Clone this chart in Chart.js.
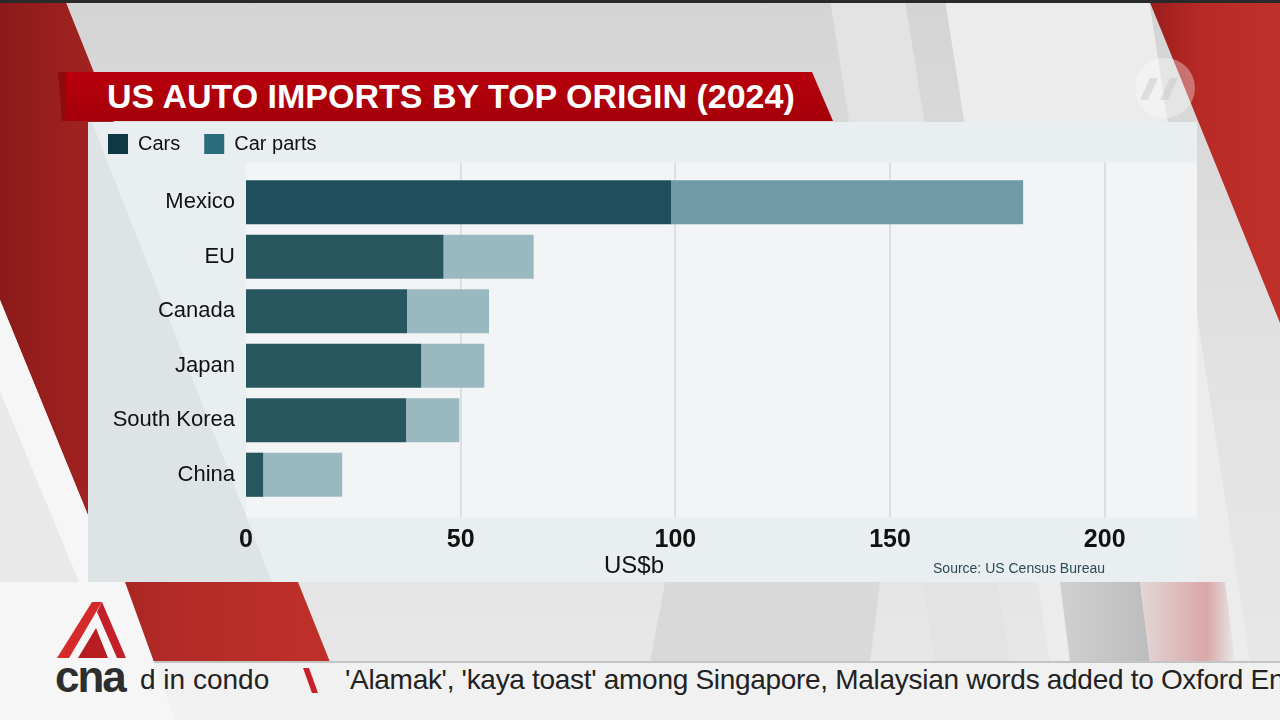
<!DOCTYPE html>
<html>
<head>
<meta charset="utf-8">
<script src="https://cdn.jsdelivr.net/npm/chart.js@4.4.1/dist/chart.umd.min.js"></script>
<style>
  html,body{margin:0;padding:0;width:1280px;height:720px;overflow:hidden;background:#dedede;font-family:"Liberation Sans",Arial,sans-serif;}
  #bg{position:absolute;left:0;top:0;}
  .abs{position:absolute;white-space:nowrap;}
  #title{left:107px;top:72px;height:49px;line-height:49px;font-size:34px;font-weight:bold;color:#fff;}
  #chartWrap{position:absolute;left:70px;top:100px;width:1140px;height:500px;}
  #unit{left:584px;top:551px;width:100px;text-align:center;font-size:24px;color:#111;line-height:28px;}
  #source{right:175px;top:559px;font-size:14px;color:#2b4a55;line-height:18px;}
  #tick1{left:140px;top:664px;font-size:28px;color:#222;letter-spacing:0px;line-height:32px;}
  #tick2{left:345px;top:664px;font-size:28px;color:#222;letter-spacing:-0.3px;line-height:32px;}
  #cna{left:55px;top:652px;font-size:44px;font-weight:bold;color:#2e2e2e;letter-spacing:-2px;line-height:50px;}
</style>
</head>
<body>
<svg id="bg" width="1280" height="720" xmlns="http://www.w3.org/2000/svg">
  <defs>
    <linearGradient id="bgG" x1="0" y1="0" x2="0" y2="1">
      <stop offset="0" stop-color="#d4d4d4"/>
      <stop offset="0.5" stop-color="#e2e2e2"/>
      <stop offset="1" stop-color="#e8e8e8"/>
    </linearGradient>
    <linearGradient id="redL" x1="0" y1="0" x2="1" y2="0">
      <stop offset="0" stop-color="#8c1a1a"/>
      <stop offset="0.5" stop-color="#b22a26"/>
      <stop offset="1" stop-color="#c0302a"/>
    </linearGradient>
    <linearGradient id="redR" x1="0" y1="0" x2="1" y2="0">
      <stop offset="0" stop-color="#9a1d1d"/>
      <stop offset="0.4" stop-color="#b82a26"/>
      <stop offset="1" stop-color="#c0302b"/>
    </linearGradient>
    <linearGradient id="banner" x1="0" y1="0" x2="0" y2="1">
      <stop offset="0" stop-color="#b8000c"/>
      <stop offset="1" stop-color="#a4000a"/>
    </linearGradient>
    <linearGradient id="pink" x1="0" y1="0" x2="1" y2="0">
      <stop offset="0" stop-color="#e4d6d6"/>
      <stop offset="0.7" stop-color="#d9a7a7"/>
      <stop offset="1" stop-color="#e8e8e8"/>
    </linearGradient>
    <linearGradient id="greyBand" x1="0" y1="0" x2="1" y2="0">
      <stop offset="0" stop-color="#d0d0d0"/>
      <stop offset="1" stop-color="#bcbcbc"/>
    </linearGradient>
  </defs>
  <rect width="1280" height="720" fill="url(#bgG)"/>
  <polygon points="830,0 905,0 1010,662 935,662" fill="#e3e3e3"/>
  <polygon points="945,0 1149,0 1250,662 1050,662" fill="#ececec"/>
  <polygon points="665,582 880,582 870,662 650,662" fill="#d9d9d9"/>
  <polygon points="1060,582 1140,582 1150,662 1070,662" fill="url(#greyBand)"/>
  <polygon points="1140,582 1225,582 1235,662 1150,662" fill="url(#pink)"/>
  <polygon points="0,0 65,0 330,662 148,662 0,300" fill="url(#redL)"/>
  <polygon points="0,300 148,662 112,662 0,392" fill="#f6f6f6"/>
  <polygon points="0,392 112,662 0,662" fill="#e9e9e9"/>
  <polygon points="1149,0 1280,0 1280,323" fill="url(#redR)"/>
  <rect x="0" y="0" width="1280" height="3" fill="#2a2a2a"/>
  <circle cx="1165" cy="88" r="30" fill="rgba(255,255,255,0.35)"/>
  <polygon points="1140,100 1150,78 1158,78 1148,100" fill="rgba(200,200,200,0.5)"/>
  <polygon points="1160,100 1170,78 1178,78 1168,100" fill="rgba(200,200,200,0.5)"/>
  <polygon points="58,72 68,72 68,121 62,121" fill="#8e0b0b"/>
  <polygon points="66,72 812,72 833,121 66,121" fill="url(#banner)"/>
  <rect x="88" y="122" width="1109" height="460" fill="#e9eef0"/>
  <polygon points="88,122 92,122 272,582 88,582" fill="rgba(0,0,0,0.045)"/>
  <rect x="0" y="662" width="1280" height="58" fill="#f1f1f1"/>
  <rect x="0" y="661" width="1280" height="2" fill="#c4c4c4"/>
  <polygon points="303,668 309,668 318,693 312,693" fill="#c8202a"/>
  <polygon points="0,582 125,582 175,720 0,720" fill="#f6f6f6"/>
  <polygon points="57,658 92,602 102,602 69,658" fill="#d42a2a"/>
  <polygon points="102,602 126,658 117,658 97,612" fill="#c4202a"/>
  <polygon points="78,658 96,628 108,658" fill="#b81d24"/>
</svg>

<div id="title" class="abs">US AUTO IMPORTS BY TOP ORIGIN (2024)</div>
<div id="chartWrap"><canvas id="c" width="1140" height="500"></canvas></div>
<div id="unit" class="abs">US$b</div>
<div id="source" class="abs">Source: US Census Bureau</div>
<div id="tick1" class="abs">d in condo</div>
<div id="tick2" class="abs">'Alamak', 'kaya toast' among Singapore, Malaysian words added to Oxford En</div>
<div id="cna" class="abs">cna</div>

<script>
// ---- data ----
const categories = ['Mexico', 'EU', 'Canada', 'Japan', 'South Korea', 'China'];
const seriesNames = ['Cars', 'Car parts'];
const carsValues = [99, 46, 37.5, 40.8, 37.3, 4];
const carPartsValues = [82, 21, 19.1, 14.7, 12.4, 18.4];
const xTickValues = [0, 50, 100, 150, 200];
const xAxisMax = 221.5;

// ---- styles ----
const FONT = '"Liberation Sans", Arial, sans-serif';
const carsColor = '#28565f', carsHighlight = '#1f4f5c';
const partsColor = '#9ab8c0', partsHighlight = '#6e9ba6';
const legendColors = ['#0d3945', '#2b6c7c'];

const plotPanel = {
  id: 'plotPanel',
  beforeDatasetsDraw(chart) {
    const {ctx, chartArea: a, scales: {x}} = chart;
    ctx.save();
    ctx.fillStyle = '#f2f4f5';
    ctx.fillRect(a.left, a.top - 12, a.right - a.left, a.bottom - a.top + 27);
    ctx.strokeStyle = '#d9dfe2';
    ctx.lineWidth = 2;
    x.ticks.forEach(t => {
      if (t.value === 0) return;
      const px = Math.round(x.getPixelForValue(t.value));
      ctx.beginPath();
      ctx.moveTo(px, a.top - 12);
      ctx.lineTo(px, a.bottom + 15);
      ctx.stroke();
    });
    ctx.restore();
  }
};

new Chart(document.getElementById('c'), {
  type: 'bar',
  data: {
    labels: categories,
    datasets: [
      {
        label: seriesNames[0],
        data: carsValues,
        backgroundColor: c => c.dataIndex === 0 ? carsHighlight : carsColor,
        borderWidth: 0,
        barPercentage: 0.81,
        categoryPercentage: 1
      },
      {
        label: seriesNames[1],
        data: carPartsValues,
        backgroundColor: c => c.dataIndex === 0 ? partsHighlight : partsColor,
        borderWidth: 0,
        barPercentage: 0.81,
        categoryPercentage: 1
      }
    ]
  },
  options: {
    indexAxis: 'y',
    responsive: false,
    animation: false,
    layout: {padding: {left: 14, top: 10, right: 13, bottom: 18}},
    plugins: {
      tooltip: {enabled: false},
      title: {display: false},
      legend: {
        position: 'top',
        align: 'start',
        labels: {
          boxWidth: 20,
          boxHeight: 20,
          padding: 24,
          color: '#111',
          font: {family: FONT, size: 20},
          generateLabels: () => seriesNames.map((n, i) => ({
            text: n, fillStyle: legendColors[i], strokeStyle: legendColors[i],
            lineWidth: 0, hidden: false, datasetIndex: i, fontColor: '#111'
          }))
        }
      }
    },
    scales: {
      x: {
        stacked: true,
        min: 0,
        max: xAxisMax,
        afterBuildTicks: s => { s.ticks = xTickValues.map(v => ({value: v})); },
        afterFit: s => { s.height = 80; },
        grid: {display: false, drawTicks: false},
        border: {display: false},
        ticks: {
          padding: 23,
          color: '#111',
          font: {family: FONT, size: 25, weight: 'bold'}
        }
      },
      spacer: {
        type: 'linear',
        position: 'top',
        display: true,
        grid: {display: false, drawTicks: false},
        border: {display: false},
        ticks: {display: false},
        afterFit: s => { s.height = 11; }
      },
      y: {
        stacked: true,
        afterFit: s => { s.width = 162; },
        grid: {display: false, drawTicks: false},
        border: {display: false},
        ticks: {
          padding: 11,
          color: '#111',
          font: {family: FONT, size: 22}
        }
      }
    }
  },
  plugins: [plotPanel]
});
</script>
</body>
</html>
